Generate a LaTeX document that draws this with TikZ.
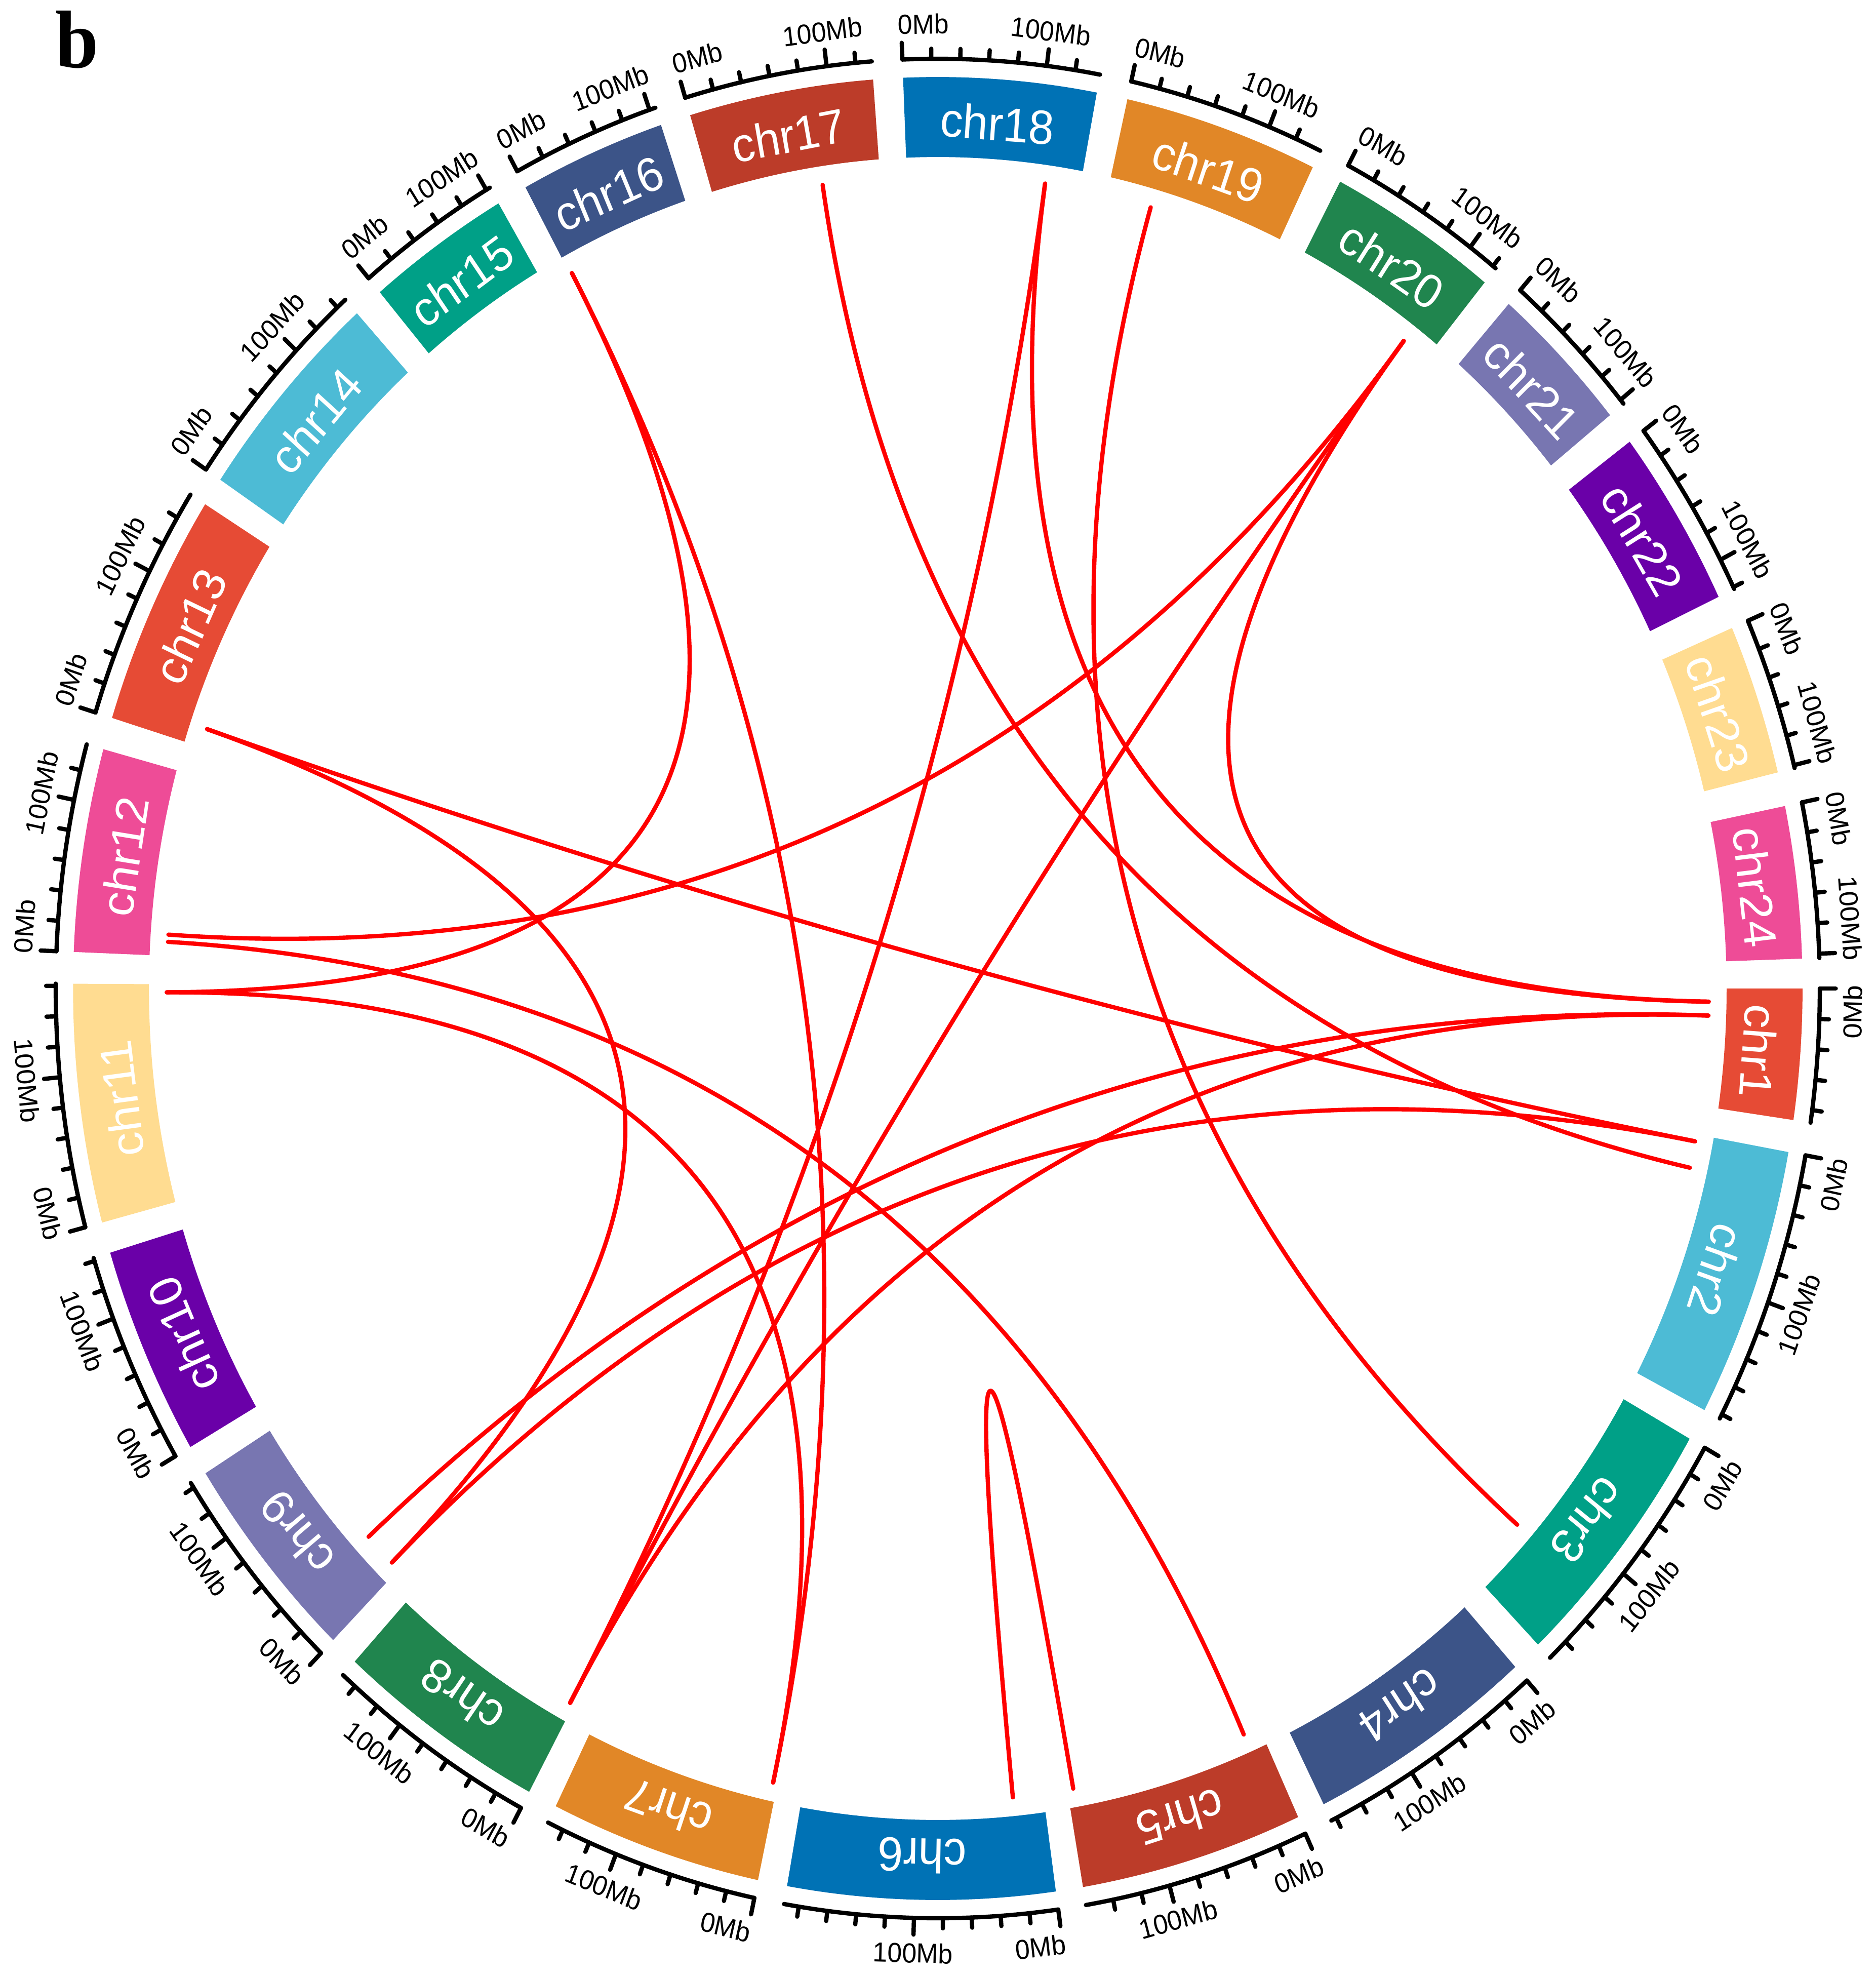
\documentclass[tikz,border=0pt]{standalone}
\usepackage{fontspec}
\setmainfont{Liberation Sans}
\newfontfamily\panelserif{Liberation Serif}
\usetikzlibrary{calc}

\definecolor{cA}{HTML}{E64B35}
\definecolor{cB}{HTML}{4DBBD5}
\definecolor{cC}{HTML}{00A087}
\definecolor{cD}{HTML}{3C5488}
\definecolor{cE}{HTML}{BC3C29}
\definecolor{cF}{HTML}{0072B5}
\definecolor{cG}{HTML}{E18727}
\definecolor{cH}{HTML}{20854E}
\definecolor{cI}{HTML}{7876B1}
\definecolor{cJ}{HTML}{6A00A8}
\definecolor{cK}{HTML}{FFDC91}
\definecolor{cL}{HTML}{EE4C97}
\definecolor{linkred}{HTML}{FF0000}

\newcommand{\Rin}{16.42}
\newcommand{\Rout}{18.0}
\newcommand{\Rcl}{17.13}
\newcommand{\Rax}{18.36}
\newcommand{\Rtl}{19.05}
\newcommand{\Rlk}{16.05}
\newcommand{\Tdeg}{1.88}

\tikzset{
  chrlabel/.style={transform shape, text=white, inner sep=0pt, font=\fontsize{27}{30}\selectfont},
  ticklabel/.style={transform shape, text=black, inner sep=0pt, font=\fontsize{15.5}{17}\selectfont},
  axisline/.style={line width=2.4pt, line cap=round, black},
  linkline/.style={line width=2.4pt, linkred, line cap=round},
}

% tick label: #1 angle expression, #2 text, #3 node name
\newcommand{\ticklab}[3]{%
  \pgfmathsetmacro\tla{#1}%
  \pgfmathsetmacro\tln{mod(\tla+720,360)}%
  \pgfmathsetmacro\tlr{\tln<180 ? \tla-90 : \tla+90}%
  \node[ticklabel, rotate=\tlr] (#3) at (\tla:\Rtl) {#2};%
}

% chromosome: #1 name, #2 start angle, #3 end angle, #4 colour
\newcommand{\chrom}[4]{%
  \fill[#4] (#2:\Rin) arc[start angle=#2, end angle=#3, radius=\Rin]
     -- (#3:\Rout) arc[start angle=#3, end angle=#2, radius=\Rout] -- cycle;
  \pgfmathsetmacro\cmid{(#2+#3)/2}%
  \node[chrlabel, rotate=\cmid-90] (#1) at (\cmid:\Rcl) {#1};
  \draw[axisline] (#2:\Rax) arc[start angle=#2, end angle=#3, radius=\Rax];
  \pgfmathsetmacro\cspan{#2-(#3)}%
  \pgfmathtruncatemacro\cnt{floor(\cspan/\Tdeg+0.02)}%
  \foreach \k in {0,...,\cnt}{%
    \pgfmathsetmacro\cta{#2-\k*\Tdeg}%
    \pgfmathsetmacro\ctl{(\k==0 || \k==5) ? \Rax+0.33 : \Rax+0.2}%
    \draw[axisline] (\cta:\Rax) -- (\cta:\ctl);
  }
  \ticklab{#2-1.4}{0Mb}{#1-0}
  \ifdim\cspan pt>9.4pt \ticklab{max(#2-5*\Tdeg, #3+2.3)}{100Mb}{#1-100}\fi
}

\newcommand{\chordlink}[2]{%
  \draw[linkline] (#1) .. controls ($(#1)!0.6667!(O)$) and ($(#2)!0.6667!(O)$) .. (#2);%
}

\begin{document}
\begin{tikzpicture}[xscale=0.9488, line join=round]
\useasboundingbox (-19.52,-19.52) rectangle (19.52,19.52);
\coordinate (O) at (0,0);

\node[transform shape, anchor=base, inner sep=0pt, font=\panelserif\bfseries\fontsize{46}{50}\selectfont] (panel) at (-17.92,18.18) {b};

\chrom{chr1}{0}{-8.3}{cA}
\chrom{chr2}{-10.34}{-27.55}{cB}
\chrom{chr3}{-29.6}{-46.04}{cC}
\chrom{chr4}{-48.1}{-63.5}{cD}
\chrom{chr5}{-65.37}{-80.33}{cE}
\chrom{chr6}{-82.15}{-100.04}{cF}
\chrom{chr7}{-102.0}{-116.22}{cG}
\chrom{chr8}{-118.2}{-132.4}{cH}
\chrom{chr9}{-134.37}{-147.87}{cI}
\chrom{chr10}{-149.8}{-163.15}{cJ}
\chrom{chr11}{-165.12}{-180.3}{cK}
\chrom{chr12}{-182.3}{-195.22}{cL}
\chrom{chr13}{-197.27}{-212.09}{cA}
\chrom{chr14}{-213.93}{-227.8}{cB}
\chrom{chr15}{-229.81}{-239.47}{cC}
\chrom{chr16}{-241.52}{-251.33}{cD}
\chrom{chr17}{-253.36}{-265.71}{cE}
\chrom{chr18}{-267.7}{-280.6}{cF}
\chrom{chr19}{-282.67}{-295.7}{cG}
\chrom{chr20}{-297.73}{-309.23}{cH}
\chrom{chr21}{-311.32}{-321.02}{cI}
\chrom{chr22}{-323.14}{-334.55}{cJ}
\chrom{chr23}{-336.7}{-346.28}{cK}
\chrom{chr24}{-348.45}{-358.12}{cL}

% link end points
\coordinate (p16) at (118.33:\Rlk);
\coordinate (p17) at (98.59:\Rlk);
\coordinate (p18) at (82.0:\Rlk);
\coordinate (p19) at (73.97:\Rlk);
\coordinate (p20) at (52.82:\Rlk);
\coordinate (p13) at (161.39:\Rlk);
\coordinate (p12a) at (176.2:\Rlk);
\coordinate (p12b) at (176.71:\Rlk);
\coordinate (p11) at (180.27:\Rlk);
\coordinate (p9a) at (222.42:\Rlk);
\coordinate (p9b) at (224.93:\Rlk);
\coordinate (p8) at (241.52:\Rlk);
\coordinate (p7) at (257.67:\Rlk);
\coordinate (p6) at (275.59:\Rlk);
\coordinate (p5a) at (280.12:\Rlk);
\coordinate (p5b) at (293.38:\Rlk);
\coordinate (p3) at (318.72:\Rlk);
\coordinate (p2a) at (349.16:\Rlk);
\coordinate (p2b) at (347.26:\Rlk);
\coordinate (p1a) at (359.07:\Rlk);
\coordinate (p1b) at (358.09:\Rlk);

\chordlink{p16}{p11}
\chordlink{p16}{p7}
\chordlink{p17}{p2b}
\chordlink{p18}{p1a}
\chordlink{p18}{p8}
\chordlink{p19}{p3}
\chordlink{p20}{p1a}
\chordlink{p20}{p12a}
\chordlink{p20}{p8}
\chordlink{p13}{p2a}
\chordlink{p13}{p9b}
\chordlink{p12b}{p5b}
\chordlink{p11}{p7}
\chordlink{p9a}{p1b}
\chordlink{p9b}{p2a}
\chordlink{p8}{p1b}
\chordlink{p6}{p5a}
\end{tikzpicture}
\end{document}
